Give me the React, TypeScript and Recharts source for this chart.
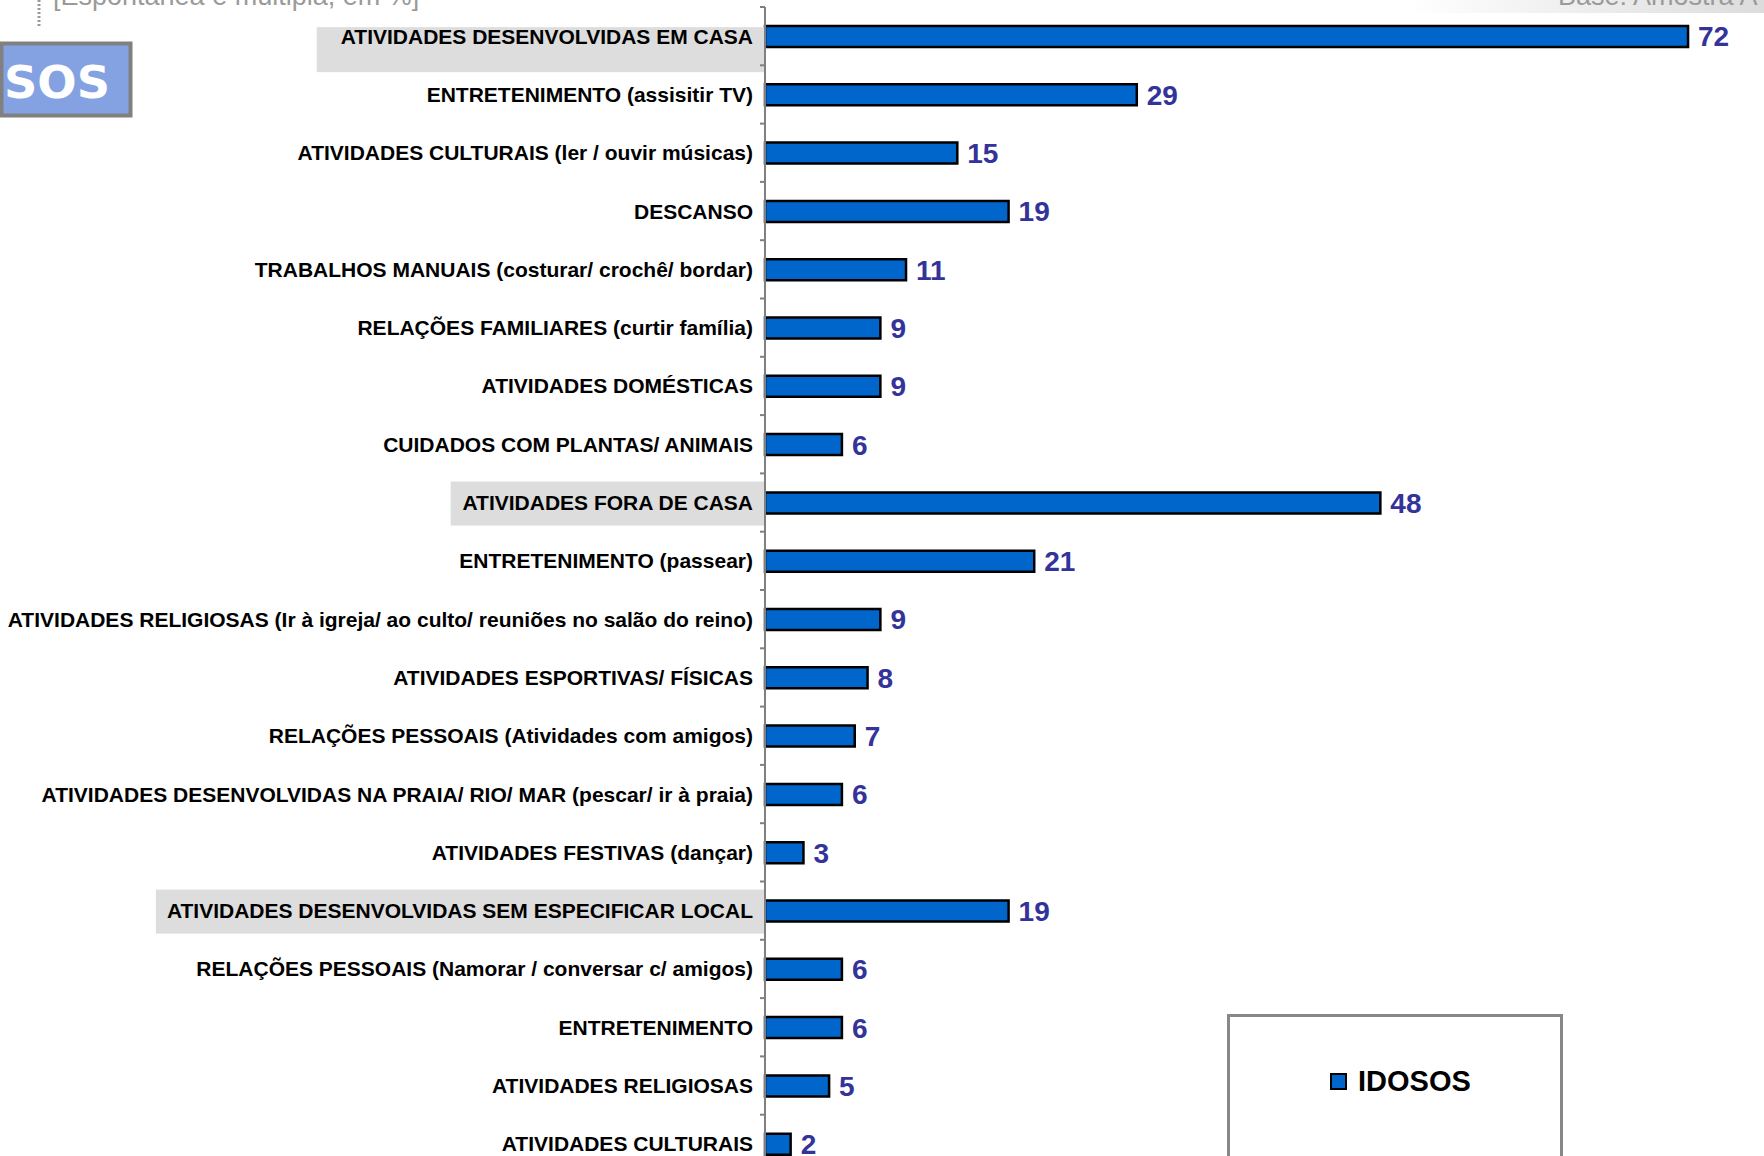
import React from "react";
import { BarChart, Bar, XAxis, YAxis, LabelList, Legend } from "recharts";

const categories: string[] = [
  "ATIVIDADES DESENVOLVIDAS EM CASA",
  "ENTRETENIMENTO (assisitir TV)",
  "ATIVIDADES CULTURAIS (ler / ouvir músicas)",
  "DESCANSO",
  "TRABALHOS MANUAIS (costurar/ crochê/ bordar)",
  "RELAÇÕES FAMILIARES (curtir família)",
  "ATIVIDADES DOMÉSTICAS",
  "CUIDADOS COM PLANTAS/ ANIMAIS",
  "ATIVIDADES FORA DE CASA",
  "ENTRETENIMENTO (passear)",
  "ATIVIDADES RELIGIOSAS (Ir à igreja/ ao culto/ reuniões no salão do reino)",
  "ATIVIDADES ESPORTIVAS/ FÍSICAS",
  "RELAÇÕES PESSOAIS (Atividades com amigos)",
  "ATIVIDADES DESENVOLVIDAS NA PRAIA/ RIO/ MAR (pescar/ ir à praia)",
  "ATIVIDADES FESTIVAS (dançar)",
  "ATIVIDADES DESENVOLVIDAS SEM ESPECIFICAR LOCAL",
  "RELAÇÕES PESSOAIS (Namorar / conversar c/ amigos)",
  "ENTRETENIMENTO",
  "ATIVIDADES RELIGIOSAS",
  "ATIVIDADES CULTURAIS",
];

const idosos: number[] = [72, 29, 15, 19, 11, 9, 9, 6, 48, 21, 9, 8, 7, 6, 3, 19, 6, 6, 5, 2];

const headerRows: string[] = [
  "ATIVIDADES DESENVOLVIDAS EM CASA",
  "ATIVIDADES FORA DE CASA",
  "ATIVIDADES DESENVOLVIDAS SEM ESPECIFICAR LOCAL",
];

const seriesName = "IDOSOS";
const subtitle = "[Espontânea e múltipla, em %]";
const baseText = "Base: Amostra A";
const badgeText = "SOS";

const data = categories.map((name, i) => ({ name, value: idosos[i] }));

const W = 1764;
const H = 1156;
const AXIS_X = 765;
const MARGIN = { top: 7, right: 37.5, left: 0, bottom: -17 };
const BAND = (H - MARGIN.top - MARGIN.bottom) / categories.length;
const FONT = '"Liberation Sans", Arial, Helvetica, sans-serif';
const BAR_FILL = "#0066CC";
const LABEL_COLOR = "#333399";

let canvasCtx: CanvasRenderingContext2D | null = null;
function measure(text: string, font: string): number {
  if (!canvasCtx) {
    const c = document.createElement("canvas");
    canvasCtx = c.getContext("2d");
  }
  if (!canvasCtx) return text.length * 12;
  canvasCtx.font = font;
  return canvasCtx.measureText(text).width;
}

const CategoryTick = (props: any) => {
  const { y, payload, index } = props;
  const label: string = payload.value;
  const isHeader = headerRows.includes(label);
  const textRight = AXIS_X - 12;
  let rect = null;
  if (isHeader) {
    const w = measure(label, `bold 21px ${FONT}`);
    const pad = index === 0 ? 24 : 11;
    const top = index === 0 ? y - 9 : y - 21;
    const h = index === 0 ? 45 : 44;
    const left = textRight - w - pad;
    rect = <rect x={left} y={top} width={AXIS_X - 1 - left} height={h} fill="#DDDDDD" />;
  }
  return (
    <g>
      {rect}
      <line x1={AXIS_X - 5} x2={AXIS_X} y1={y - BAND / 2} y2={y - BAND / 2} stroke="#808080" strokeWidth={2} />
      <text
        x={textRight}
        y={y + 7.5}
        textAnchor="end"
        fontFamily={FONT}
        fontWeight="bold"
        fontSize={21}
        fill="#000"
      >
        {label}
      </text>
    </g>
  );
};

const LegendBox = () => (
  <div
    style={{
      width: 336,
      height: 150,
      boxSizing: "border-box",
      border: "3px solid #888",
      background: "#fff",
      position: "relative",
    }}
  >
    <div
      style={{
        position: "absolute",
        left: 100,
        top: 48,
        display: "flex",
        alignItems: "center",
        fontFamily: FONT,
        fontWeight: "bold",
        fontSize: 29,
        color: "#000",
      }}
    >
      <span
        style={{
          display: "inline-block",
          width: 17,
          height: 17,
          boxSizing: "border-box",
          background: BAR_FILL,
          border: "2px solid #000",
          marginRight: 11,
        }}
      />
      <span>{seriesName}</span>
    </div>
  </div>
);

export default function App() {
  return (
    <div
      style={{
        position: "absolute",
        left: 0,
        top: 0,
        width: W,
        height: H,
        overflow: "hidden",
        background: "#fff",
      }}
    >
      <div
        style={{
          position: "absolute",
          left: 1407,
          top: 0,
          width: W - 1407,
          height: 13,
          background: "linear-gradient(to right, #ffffff, #dcdcdc)",
        }}
      />
      <svg width={W} height={H} style={{ position: "absolute", left: 0, top: 0 }}>
        <line x1={39} x2={39} y1={0} y2={26} stroke="#999" strokeWidth={3} strokeDasharray="2 2" />
        <text x={53} y={5} fontFamily={FONT} fontSize={27} fill="#9a9a9a">
          {subtitle}
        </text>
        <text x={1558} y={5} fontFamily={FONT} fontSize={27} fill="#9a9a9a">
          {baseText}
        </text>
        <rect x={1.5} y={43.5} width={129} height={72} fill="#84A2E2" stroke="#808080" strokeWidth={4} />
        <text
          x={4}
          y={98}
          fontFamily='"DejaVu Sans", Verdana, sans-serif'
          fontWeight="bold"
          fontSize={45}
          fill="#ffffff"
          textLength={106}
          lengthAdjust="spacingAndGlyphs"
        >
          {badgeText}
        </text>
      </svg>
      <div style={{ position: "absolute", left: 0, top: 0 }}>
        <BarChart
          width={W}
          height={H}
          data={data}
          layout="vertical"
          margin={MARGIN}
          barCategoryGap={0}
          style={{ background: "transparent" }}
        >
          <XAxis type="number" domain={[0, 75]} hide />
          <YAxis
            type="category"
            dataKey="name"
            width={AXIS_X}
            interval={0}
            tickLine={false}
            axisLine={{ stroke: "#808080", strokeWidth: 2 }}
            tick={<CategoryTick />}
          />
          <Legend
            layout="vertical"
            align="center"
            verticalAlign="middle"
            content={() => <LegendBox />}
            wrapperStyle={{ left: 1227, top: 1014, width: 336, height: 150 }}
          />
          <Bar
            dataKey="value"
            name={seriesName}
            fill={BAR_FILL}
            stroke="#000"
            strokeWidth={2.5}
            barSize={21}
            isAnimationActive={false}
          >
            <LabelList
              dataKey="value"
              position="right"
              offset={10}
              fill={LABEL_COLOR}
              fontSize={28}
              fontWeight="bold"
              fontFamily={FONT}
            />
          </Bar>
        </BarChart>
      </div>
    </div>
  );
}
